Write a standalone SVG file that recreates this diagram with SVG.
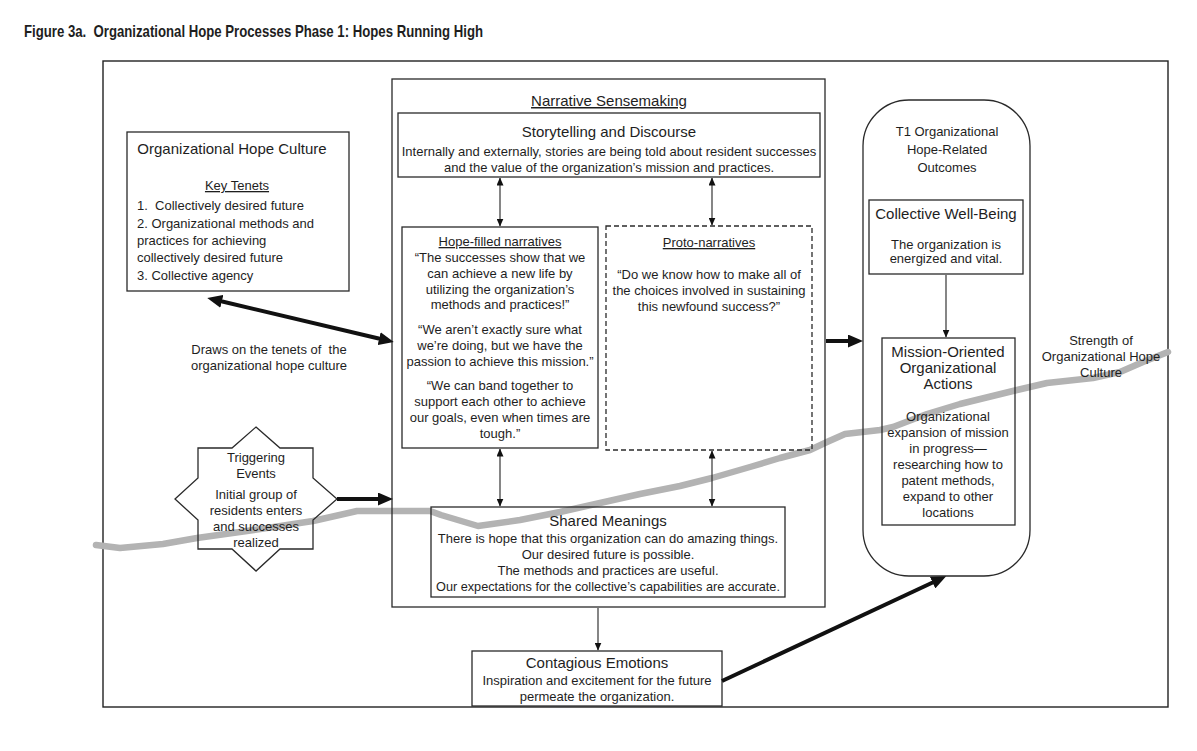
<svg xmlns="http://www.w3.org/2000/svg" width="1197" height="751" viewBox="0 0 1197 751">
<defs>
<style>
text{font-family:"Liberation Sans",Arial,sans-serif;fill:#1e1e1e;white-space:pre}
.t{font-size:15px}
.b{font-size:13px}
.c{text-anchor:middle}
.u{text-decoration:underline}
.box{fill:none;stroke:#2a2a2a;stroke-width:1.3}
.thin{stroke:#222;stroke-width:1.1;fill:none}
.thick{stroke:#111;stroke-width:4;fill:none}
</style>
<marker id="ah" viewBox="0 0 8 7" refX="7.5" refY="3.5" markerWidth="8" markerHeight="7" markerUnits="userSpaceOnUse" orient="auto-start-reverse"><path d="M0,0 L8,3.5 L0,7 z" fill="#111"/></marker>
<marker id="ahT" viewBox="0 0 15 13" refX="6" refY="6.5" markerWidth="15" markerHeight="13" markerUnits="userSpaceOnUse" orient="auto-start-reverse"><path d="M0,0 L15,6.5 L0,13 z" fill="#111"/></marker>
</defs>
<rect width="1197" height="751" fill="#fff"/>
<text x="24" y="37" style="font-size:17px;font-weight:bold" textLength="459" lengthAdjust="spacingAndGlyphs">Figure 3a.  Organizational Hope Processes Phase 1: Hopes Running High</text>
<rect x="103" y="61" width="1065" height="646" fill="none" stroke="#222" stroke-width="1.4"/>

<g id="hope-strength">
<path d="M96,545 L120,548 L163,544 L197,538 L247,531 L313,521 L357,511 L430,511 L441,515 L478,526 L520,520 L560,512 L600,503 L640,494 L680,486 L712,478 L750,467 L780,458 L810,450 L827,442 L845,434 L880,430 L893,427 L927,414 L960,404 L1017,390 L1047,383 L1093,378 L1120,372 L1143,362 L1168,352" fill="none" stroke="#b3b3b3" stroke-width="6.5" stroke-linejoin="round" stroke-linecap="round"/>
<text class="b c" x="1101" y="345">Strength of</text>
<text class="b c" x="1101" y="361">Organizational Hope</text>
<text class="b c" x="1101" y="377">Culture</text>
</g>

<g id="org-hope-culture">
<rect class="box" x="127" y="132" width="222" height="159"/>
<text class="t c" x="232" y="154">Organizational Hope Culture</text>
<text class="b c u" x="237" y="190">Key Tenets</text>
<text class="b" x="137" y="210">1.  Collectively desired future</text>
<text class="b" x="137" y="228">2. Organizational methods and</text>
<text class="b" x="137" y="245">practices for achieving</text>
<text class="b" x="137" y="262">collectively desired future</text>
<text class="b" x="137" y="280">3. Collective agency</text>
</g>

<g id="draws-on-label">
<text class="b c" x="269" y="354">Draws on the tenets of  the</text>
<text class="b c" x="269" y="370">organizational hope culture</text>
</g>

<g id="triggering-events">
<polygon class="box" points="256,427 280,448 313,448 313,478 337,499 313,520 313,549 280,549 256,571 232,549 198,549 198,520 175,499 198,478 198,448 232,448"/>
<text class="b c" x="256" y="462">Triggering</text>
<text class="b c" x="256" y="478">Events</text>
<text class="b c" x="256" y="499">Initial group of</text>
<text class="b c" x="256" y="515">residents enters</text>
<text class="b c" x="256" y="531">and successes</text>
<text class="b c" x="256" y="547">realized</text>
</g>

<g id="narrative-sensemaking">
<rect class="box" x="392" y="79" width="433" height="528"/>
<text class="t c u" x="609" y="106">Narrative Sensemaking</text>
</g>

<g id="storytelling">
<rect class="box" x="398" y="113" width="422" height="64"/>
<text class="t c" x="609" y="137">Storytelling and Discourse</text>
<text class="b c" x="609" y="156">Internally and externally, stories are being told about resident successes</text>
<text class="b c" x="609" y="172">and the value of the organization’s mission and practices.</text>
</g>

<g id="hope-filled-narratives">
<rect class="box" x="402" y="227" width="196" height="221"/>
<text class="b c u" x="500" y="246">Hope-filled narratives</text>
<text class="b c" x="500" y="262">“The successes show that we</text>
<text class="b c" x="500" y="278">can achieve a new life by</text>
<text class="b c" x="500" y="294">utilizing the organization’s</text>
<text class="b c" x="500" y="309">methods and practices!”</text>
<text class="b c" x="500" y="334">“We aren’t exactly sure what</text>
<text class="b c" x="500" y="350">we’re doing, but we have the</text>
<text class="b c" x="500" y="366">passion to achieve this mission.”</text>
<text class="b c" x="500" y="390">“We can band together to</text>
<text class="b c" x="500" y="406">support each other to achieve</text>
<text class="b c" x="500" y="422">our goals, even when times are</text>
<text class="b c" x="500" y="438">tough.”</text>
</g>

<g id="proto-narratives">
<rect class="box" x="606" y="226" width="206" height="224" stroke-dasharray="5,3"/>
<text class="b c u" x="709" y="247">Proto-narratives</text>
<text class="b c" x="709" y="279">“Do we know how to make all of</text>
<text class="b c" x="709" y="295">the choices involved in sustaining</text>
<text class="b c" x="709" y="311">this newfound success?”</text>
</g>

<g id="shared-meanings">
<rect class="box" x="431" y="507" width="354" height="90"/>
<text class="t c" x="608" y="526">Shared Meanings</text>
<text class="b c" x="608" y="543">There is hope that this organization can do amazing things.</text>
<text class="b c" x="608" y="559">Our desired future is possible.</text>
<text class="b c" x="608" y="575">The methods and practices are useful.</text>
<text class="c" x="608" y="591" style="font-size:12.7px">Our expectations for the collective’s capabilities are accurate.</text>
</g>

<g id="contagious-emotions">
<rect class="box" x="472" y="651" width="250" height="55"/>
<text class="t c" x="597" y="668">Contagious Emotions</text>
<text class="b c" x="597" y="685">Inspiration and excitement for the future</text>
<text class="b c" x="597" y="701">permeate the organization.</text>
</g>

<g id="t1-outcomes">
<rect class="box" x="863" y="100" width="167" height="476" rx="46" ry="46"/>
<text class="b c" x="947" y="136">T1 Organizational</text>
<text class="b c" x="947" y="154">Hope-Related</text>
<text class="b c" x="947" y="172">Outcomes</text>
</g>

<g id="collective-well-being">
<rect class="box" x="869" y="200" width="154" height="74"/>
<text class="t c" x="946" y="219">Collective Well-Being</text>
<text class="b c" x="946" y="249">The organization is</text>
<text class="b c" x="946" y="263">energized and vital.</text>
</g>

<g id="mission-actions">
<rect class="box" x="882" y="338" width="133" height="187"/>
<text class="t c" x="948" y="357">Mission-Oriented</text>
<text class="t c" x="948" y="373">Organizational</text>
<text class="t c" x="948" y="389">Actions</text>
<text class="b c" x="948" y="421">Organizational</text>
<text class="b c" x="948" y="437">expansion of mission</text>
<text class="b c" x="948" y="453">in progress—</text>
<text class="b c" x="948" y="469">researching how to</text>
<text class="b c" x="948" y="485">patent methods,</text>
<text class="b c" x="948" y="501">expand to other</text>
<text class="b c" x="948" y="517">locations</text>
</g>

<g id="connectors">
<line class="thin" x1="500" y1="178" x2="500" y2="226" marker-start="url(#ah)" marker-end="url(#ah)"/>
<line class="thin" x1="712" y1="178" x2="712" y2="225" marker-start="url(#ah)" marker-end="url(#ah)"/>
<line class="thin" x1="500" y1="449" x2="500" y2="506" marker-start="url(#ah)" marker-end="url(#ah)"/>
<line class="thin" x1="712" y1="451" x2="712" y2="506" marker-start="url(#ah)" marker-end="url(#ah)"/>
<line class="thin" x1="598" y1="608" x2="598" y2="650" stroke="#777" marker-end="url(#ah)"/>
<line class="thin" x1="946" y1="275" x2="946" y2="337" stroke="#777" marker-end="url(#ah)"/>
<line class="thick" x1="216" y1="300" x2="385" y2="340" marker-start="url(#ahT)" marker-end="url(#ahT)"/>
<line class="thick" x1="337" y1="499" x2="384" y2="499" marker-end="url(#ahT)"/>
<line class="thick" x1="826" y1="341" x2="854" y2="341" marker-end="url(#ahT)"/>
<line class="thick" x1="722" y1="681" x2="938" y2="580" marker-end="url(#ahT)"/>
</g>
</svg>
